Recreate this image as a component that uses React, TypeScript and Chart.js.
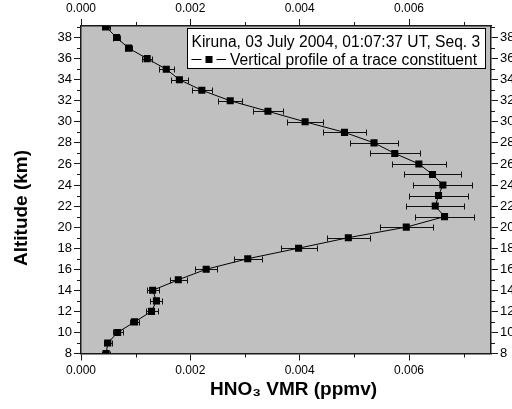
import React, { useEffect, useRef } from 'react';
import { Chart, registerables } from 'chart.js';

Chart.register(...registerables);

// ---- data ----
const altitudeKm = [39, 38, 37, 36, 35, 34, 33, 32, 31, 30, 29, 28, 27, 26, 25, 24, 23, 22, 21, 20, 19, 18, 17, 16, 15, 14, 13, 12, 11, 10, 9, 8];
const hno3Vmr = [0.00046, 0.00065, 0.00087, 0.00121, 0.00156, 0.0018, 0.00221, 0.00273, 0.00342, 0.0041, 0.00482, 0.00536, 0.00574, 0.00618, 0.00643, 0.00662, 0.00654, 0.00648, 0.00665, 0.00595, 0.00489, 0.00398, 0.00305, 0.00229, 0.00178, 0.00131, 0.00138, 0.00129, 0.00098, 0.00067, 0.00049, 0.00046];
const hno3Err = [0.00007, 0.00006, 0.00006, 0.00009, 0.00014, 0.00015, 0.00018, 0.00022, 0.00027, 0.00033, 0.00039, 0.00044, 0.00046, 0.0005, 0.00053, 0.00054, 0.00054, 0.00053, 0.00054, 0.00048, 0.00039, 0.00033, 0.00026, 0.0002, 0.00015, 0.00011, 0.00011, 0.00011, 0.00009, 0.00009, 0.00007, 0.00007];

const xMinorTicks = [0.001, 0.003, 0.005, 0.007];
const yMinorTicks = [9, 11, 13, 15, 17, 19, 21, 23, 25, 27, 29, 31, 33, 35, 37, 39];

const legendTitle = 'Kiruna, 03 July 2004, 01:07:37 UT, Seq. 3';
const seriesLabel = 'Vertical profile of a trace constituent';
const xAxisTitle = 'HNO₃ VMR (ppmv)';
const yAxisTitle = 'Altitude (km)';

const X_MIN = 0;
const X_MAX = 0.0075;
const Y_MIN = 8;
const Y_MAX = 39.1;

const FONT = '"Liberation Sans", Arial, sans-serif';
const AXIS_COLOR = '#1a1a1a';

const decorPlugin = {
  id: 'decor',
  beforeDraw(chart: any) {
    const { ctx, chartArea: a } = chart;
    ctx.save();
    ctx.fillStyle = '#ffffff';
    ctx.fillRect(0, 0, chart.width, chart.height);
    ctx.fillStyle = '#c0c0c0';
    ctx.fillRect(a.left, a.top, a.right - a.left, a.bottom - a.top);
    ctx.restore();
  },
  beforeDatasetsDraw(chart: any) {
    const { ctx, chartArea: a, scales } = chart;
    const x = scales.x;
    const y = scales.y;
    ctx.save();
    ctx.beginPath();
    ctx.rect(a.left, a.top, a.right - a.left, a.bottom - a.top);
    ctx.clip();
    ctx.strokeStyle = '#111';
    ctx.lineWidth = 1;
    altitudeKm.forEach((alt, i) => {
      const py = Math.round(y.getPixelForValue(alt)) + 0.5;
      const x0 = Math.round(x.getPixelForValue(hno3Vmr[i] - hno3Err[i])) + 0.5;
      const x1 = Math.round(x.getPixelForValue(hno3Vmr[i] + hno3Err[i])) + 0.5;
      ctx.beginPath();
      ctx.moveTo(x0, py);
      ctx.lineTo(x1, py);
      ctx.moveTo(x0, py - 3);
      ctx.lineTo(x0, py + 3);
      ctx.moveTo(x1, py - 3);
      ctx.lineTo(x1, py + 3);
      ctx.stroke();
    });
    ctx.restore();
  },
  afterDraw(chart: any) {
    const { ctx, chartArea: a, scales } = chart;
    const x = scales.x;
    const y = scales.y;
    ctx.save();
    // minor ticks
    ctx.strokeStyle = AXIS_COLOR;
    ctx.lineWidth = 1;
    ctx.beginPath();
    xMinorTicks.forEach((v) => {
      const px = Math.round(x.getPixelForValue(v)) + 0.5;
      ctx.moveTo(px, a.bottom);
      ctx.lineTo(px, a.bottom + 4);
      ctx.moveTo(px, a.top);
      ctx.lineTo(px, a.top - 4);
    });
    yMinorTicks.forEach((v) => {
      const py = Math.round(y.getPixelForValue(v)) + 0.5;
      ctx.moveTo(a.left, py);
      ctx.lineTo(a.left - 4, py);
      ctx.moveTo(a.right, py);
      ctx.lineTo(a.right + 4, py);
    });
    ctx.stroke();

    // legend box
    const bx = 187.5, by = 28.5, bw = 298, bh = 40;
    ctx.fillStyle = '#ffffff';
    ctx.fillRect(bx, by, bw, bh);
    ctx.strokeStyle = '#000';
    ctx.lineWidth = 1;
    ctx.strokeRect(bx, by, bw, bh);
    ctx.fillStyle = '#000';
    ctx.font = `15.6px ${FONT}`;
    ctx.textAlign = 'left';
    ctx.textBaseline = 'alphabetic';
    ctx.fillText(legendTitle, 191.5, 46.5);
    // legend symbol
    ctx.beginPath();
    ctx.moveTo(191.5, 59.5);
    ctx.lineTo(201.5, 59.5);
    ctx.moveTo(216.5, 59.5);
    ctx.lineTo(226, 59.5);
    ctx.stroke();
    ctx.fillRect(205.5, 56, 7, 7);
    ctx.fillText(seriesLabel, 230, 65);

    // axis titles
    ctx.font = `bold 19px ${FONT}`;
    ctx.textAlign = 'center';
    ctx.textBaseline = 'middle';
    ctx.fillText(xAxisTitle, 293.5, 390);
    ctx.translate(22, 208);
    ctx.rotate(-Math.PI / 2);
    ctx.fillText(yAxisTitle, 0, 0);
    ctx.restore();
  },
};

function axisCommon() {
  return {
    type: 'linear' as const,
    grid: { drawOnChartArea: false, drawTicks: true, tickLength: 7, color: AXIS_COLOR, lineWidth: 1 },
    border: { display: true, color: AXIS_COLOR, width: 1.5 },
  };
}

export default function App() {
  const canvasRef = useRef<HTMLCanvasElement | null>(null);

  useEffect(() => {
    document.body.style.margin = '0';
    const canvas = canvasRef.current;
    if (!canvas) return;
    const points = altitudeKm.map((alt, i) => ({ x: hno3Vmr[i], y: alt }));
    const xTickFont = { family: FONT, size: 12 };
    const yTickFont = { family: FONT, size: 13 };
    const chart = new Chart(canvas, {
      type: 'scatter',
      data: {
        datasets: [
          {
            label: seriesLabel,
            data: points,
            showLine: true,
            borderColor: '#000',
            borderWidth: 1,
            backgroundColor: '#000',
            pointStyle: 'rect',
            pointRadius: 5,
            pointBorderWidth: 0,
            pointBackgroundColor: '#000',
            clip: 0,
          } as any,
        ],
      },
      options: {
        animation: false,
        responsive: false,
        devicePixelRatio: 1,
        layout: { padding: 0 },
        plugins: { legend: { display: false }, tooltip: { enabled: false }, title: { display: false } },
        scales: {
          x: {
            ...axisCommon(),
            position: 'bottom',
            min: X_MIN,
            max: X_MAX,
            ticks: { stepSize: 0.002, includeBounds: false, color: '#000', font: xTickFont, padding: 3, maxRotation: 0, callback: (v: any) => Number(v).toFixed(3) },
            afterFit: (s: any) => { s.height = 55.5; },
          },
          x2: {
            ...axisCommon(),
            axis: 'x',
            position: 'top',
            min: X_MIN,
            max: X_MAX,
            ticks: { stepSize: 0.002, includeBounds: false, color: '#000', font: xTickFont, padding: 3, maxRotation: 0, callback: (v: any) => Number(v).toFixed(3) },
            afterFit: (s: any) => { s.height = 26; },
          },
          y: {
            ...axisCommon(),
            position: 'left',
            min: Y_MIN,
            max: Y_MAX,
            ticks: { stepSize: 2, includeBounds: false, color: '#000', font: yTickFont, padding: 2, callback: (v: any) => String(Math.round(Number(v))) },
            afterFit: (s: any) => { s.width = 81; },
          },
          y2: {
            ...axisCommon(),
            axis: 'y',
            position: 'right',
            min: Y_MIN,
            max: Y_MAX,
            ticks: { stepSize: 2, includeBounds: false, color: '#000', font: yTickFont, padding: 2, callback: (v: any) => String(Math.round(Number(v))) },
            afterFit: (s: any) => { s.width = 21; },
          },
        },
      } as any,
      plugins: [decorPlugin],
    });
    return () => chart.destroy();
  }, []);

  return (
    <div style={{ width: 512, height: 409 }}>
      <canvas ref={canvasRef} width={512} height={409} style={{ display: 'block' }} />
    </div>
  );
}
